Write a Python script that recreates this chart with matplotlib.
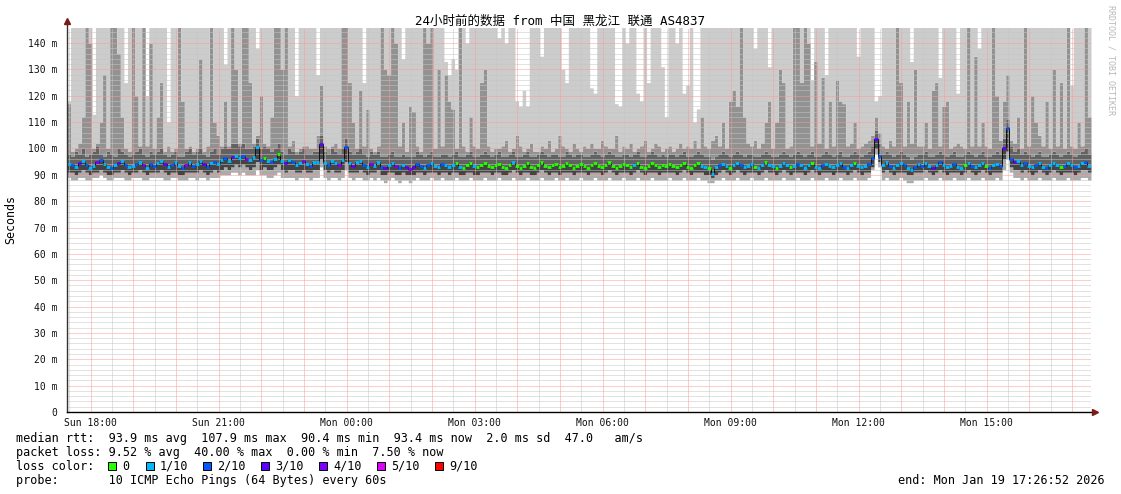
import numpy as np
import matplotlib
matplotlib.use('Agg')
from matplotlib import pyplot as plt
from matplotlib.patches import Rectangle

plt.rcParams['font.family'] = ['DejaVu Sans Mono', 'Noto Sans CJK SC']

# 5 minute steps, Sun 17:26:52 -> Mon 17:26:52 (288 steps), values in ms
median_ms = [
    94.1, 93.6, 92.8, 94.5, 95.2, 93.9, 92.6, 93.4, 94.8, 95.6, 94.0, 93.1, 92.4, 93.8, 94.6, 95.1, 93.7, 92.9, 93.5, 94.2, 95.0, 93.6, 92.7, 94.0,
    93.3, 94.4, 95.2, 94.1, 92.9, 93.6, 94.8, 93.2, 92.5, 93.9, 94.7, 93.4, 94.0, 95.3, 94.2, 93.1, 94.5, 95.0, 94.1, 95.6, 96.2, 95.4, 96.8, 97.1,
    96.4, 97.2, 96.0, 95.5, 96.7, 100.6, 95.8, 96.3, 95.2, 94.8, 95.9, 97.9, 95.1, 94.3, 95.6, 94.9, 93.8, 94.6, 95.3, 94.2, 93.5, 94.7, 95.0, 101.8,
    94.6, 93.9, 95.2, 94.4, 93.7, 95.5, 100.6, 94.3, 93.5, 94.8, 95.1, 93.6, 92.9, 94.2, 93.4, 94.9, 93.1, 92.6, 93.8, 94.5, 93.2, 92.4, 93.6, 92.8,
    92.3, 93.0, 94.2, 93.5, 92.7, 93.9, 94.6, 93.3, 92.8, 94.1, 93.6, 92.9, 93.8, 94.4, 93.1, 92.6, 93.7, 94.3, 93.2, 92.8, 93.9, 94.5, 93.4, 92.9,
    93.6, 94.2, 93.1, 92.7, 93.8, 94.9, 93.3, 92.6, 93.5, 94.4, 93.0, 92.5, 93.9, 94.7, 93.4, 92.8, 93.6, 94.1, 92.9, 93.3, 94.6, 93.8, 92.7, 93.5,
    94.0, 93.2, 92.6, 93.7, 94.5, 93.4, 92.9, 93.8, 94.8, 93.5, 92.7, 93.3, 94.2, 93.6, 92.8, 93.9, 94.6, 93.1, 92.5, 93.4, 94.3, 93.7, 92.9, 93.6,
    93.2, 94.1, 93.5, 92.8, 93.9, 94.4, 93.0, 92.7, 93.6, 94.3, 93.4, 92.9, 92.4, 90.4, 92.8, 93.7, 94.2, 93.5, 92.6, 93.9, 94.5, 93.8, 92.9, 93.4,
    94.0, 93.1, 92.6, 93.8, 94.7, 93.9, 93.2, 92.5, 93.5, 94.4, 93.7, 92.8, 93.3, 94.2, 93.6, 92.7, 93.9, 94.5, 93.0, 92.6, 93.7, 94.1, 93.4, 92.9,
    93.6, 94.3, 93.0, 92.7, 93.8, 94.6, 93.4, 92.8, 93.5, 94.2, 96.5, 103.5, 97.2, 93.9, 94.8, 93.3, 92.6, 93.7, 94.5, 93.9, 92.4, 91.8, 93.1, 94.0,
    93.5, 94.4, 93.2, 92.7, 93.6, 94.9, 93.8, 92.9, 93.4, 94.2, 93.0, 92.6, 93.7, 94.3, 93.5, 92.8, 93.9, 94.6, 93.2, 92.5, 93.6, 94.0, 93.3, 100.2,
    107.9, 96.1, 94.8, 95.2, 93.9, 94.6, 93.5, 92.8, 93.7, 94.4, 93.1, 92.6, 93.8, 94.5, 93.6, 92.9, 93.4, 94.3, 93.7, 92.8, 93.5, 94.6, 94.9, 93.4,
]

# lost pings out of 10
loss = [
    1, 2, 1, 3, 1, 2, 1, 1, 4, 2, 1, 1, 2, 1, 3, 1, 2, 1, 1, 2, 1, 4, 1, 2,
    2, 1, 1, 3, 1, 2, 1, 1, 2, 4, 1, 2, 1, 1, 3, 2, 1, 2, 1, 1, 2, 1, 3, 1,
    1, 2, 4, 1, 1, 1, 2, 0, 1, 2, 1, 0, 1, 3, 1, 2, 1, 1, 4, 1, 2, 1, 1, 3,
    1, 2, 1, 1, 4, 1, 2, 1, 3, 1, 1, 2, 1, 4, 1, 1, 2, 3, 1, 1, 4, 2, 1, 3,
    4, 3, 2, 2, 1, 2, 1, 1, 1, 2, 1, 1, 1, 0, 1, 0, 0, 0, 1, 0, 0, 0, 0, 0,
    0, 0, 0, 0, 0, 1, 0, 0, 0, 0, 0, 0, 0, 0, 0, 0, 0, 0, 0, 0, 0, 0, 0, 0,
    0, 0, 0, 0, 0, 0, 0, 0, 0, 0, 0, 0, 0, 0, 0, 1, 0, 0, 0, 0, 0, 0, 0, 0,
    0, 0, 0, 0, 0, 0, 0, 0, 0, 0, 1, 1, 0, 1, 1, 2, 1, 1, 0, 1, 1, 2, 1, 1,
    1, 0, 1, 1, 0, 1, 1, 0, 1, 1, 1, 0, 1, 2, 1, 1, 1, 0, 1, 1, 2, 1, 1, 1,
    1, 1, 2, 1, 1, 0, 1, 1, 1, 2, 2, 3, 2, 1, 1, 2, 1, 1, 1, 2, 1, 1, 2, 1,
    2, 1, 1, 3, 1, 2, 1, 1, 1, 2, 1, 1, 0, 1, 2, 1, 1, 1, 0, 2, 1, 1, 2, 3,
    2, 2, 3, 1, 1, 2, 1, 1, 2, 1, 1, 2, 1, 1, 1, 0, 2, 1, 1, 2, 1, 1, 2, 1,
]

# smoke: fastest ping
ping_min = [
    89, 88, 88, 89, 89, 88, 88, 89, 89, 90, 89, 88, 88, 89, 89, 89, 88, 88, 89, 89, 89, 88, 88, 89,
    89, 89, 89, 88, 88, 89, 89, 88, 88, 88, 89, 89, 88, 89, 89, 88, 89, 89, 89, 90, 90, 90, 91, 91,
    90, 91, 90, 90, 90, 92, 90, 90, 89, 89, 90, 91, 89, 89, 89, 89, 88, 89, 89, 89, 88, 89, 89, 93,
    89, 88, 89, 89, 88, 89, 92, 89, 88, 89, 89, 88, 88, 89, 88, 89, 88, 87, 88, 89, 88, 87, 88, 88,
    87, 88, 89, 88, 88, 88, 89, 88, 88, 89, 88, 88, 88, 89, 88, 88, 88, 89, 88, 88, 88, 89, 88, 88,
    88, 89, 88, 88, 88, 89, 88, 88, 88, 89, 88, 88, 88, 89, 88, 88, 88, 89, 88, 88, 89, 88, 88, 88,
    89, 88, 88, 88, 89, 88, 88, 88, 89, 88, 88, 88, 89, 88, 88, 88, 89, 88, 88, 88, 89, 88, 88, 88,
    88, 89, 88, 88, 88, 89, 88, 88, 88, 89, 88, 88, 87, 87, 88, 88, 89, 88, 88, 88, 89, 88, 88, 88,
    89, 88, 88, 88, 89, 88, 88, 88, 88, 89, 88, 88, 88, 89, 88, 88, 88, 89, 88, 88, 88, 89, 88, 88,
    88, 89, 88, 88, 88, 89, 88, 88, 88, 89, 92, 98, 93, 88, 89, 88, 88, 88, 89, 88, 87, 87, 88, 88,
    88, 89, 88, 88, 88, 89, 88, 88, 88, 89, 88, 88, 88, 89, 88, 88, 88, 89, 88, 88, 88, 89, 88, 92,
    96, 91, 89, 89, 88, 89, 88, 88, 88, 89, 88, 88, 88, 89, 88, 88, 88, 89, 88, 88, 88, 89, 89, 88,
]

# smoke: 2nd/3rd fastest pings
ping_lo = [
    91, 91, 90, 91, 92, 91, 90, 91, 91, 92, 91, 90, 90, 91, 91, 92, 91, 90, 91, 91, 92, 91, 90, 91,
    91, 91, 92, 91, 90, 91, 91, 90, 90, 91, 91, 91, 91, 92, 91, 90, 91, 92, 91, 92, 93, 92, 93, 94,
    93, 94, 93, 92, 93, 95, 92, 93, 92, 92, 93, 94, 92, 91, 92, 92, 91, 91, 92, 91, 91, 92, 92, 96,
    92, 91, 92, 91, 91, 92, 95, 91, 91, 91, 92, 91, 90, 91, 91, 92, 90, 90, 91, 91, 90, 90, 91, 90,
    90, 90, 91, 91, 90, 91, 91, 91, 90, 91, 91, 90, 91, 91, 90, 90, 91, 91, 90, 90, 91, 91, 91, 90,
    91, 91, 90, 90, 91, 92, 91, 90, 91, 91, 90, 90, 91, 92, 91, 90, 91, 91, 90, 91, 91, 91, 90, 91,
    91, 91, 90, 91, 91, 91, 90, 91, 92, 91, 90, 91, 91, 91, 90, 91, 92, 91, 90, 91, 91, 91, 90, 91,
    91, 91, 91, 90, 91, 92, 91, 90, 91, 91, 91, 90, 90, 89, 90, 91, 92, 91, 90, 91, 92, 91, 90, 91,
    91, 91, 90, 91, 92, 91, 91, 90, 91, 92, 91, 90, 91, 91, 91, 90, 91, 92, 91, 90, 91, 91, 91, 90,
    91, 91, 91, 90, 91, 92, 91, 90, 91, 91, 93, 100, 95, 91, 92, 91, 90, 91, 91, 91, 90, 90, 91, 91,
    91, 92, 91, 90, 91, 92, 91, 90, 91, 91, 91, 90, 91, 92, 91, 90, 91, 92, 91, 90, 91, 91, 91, 96,
    99, 93, 92, 92, 91, 92, 91, 90, 91, 92, 91, 90, 91, 92, 91, 90, 91, 91, 91, 90, 91, 92, 92, 91,
]

# smoke: 7th/8th pings
ping_hi = [
    98, 97, 99, 98, 100, 97, 98, 99, 101, 98, 97, 99, 98, 97, 100, 99, 98, 97, 98, 99, 100, 98, 97, 99,
    98, 99, 100, 98, 97, 98, 99, 97, 97, 99, 100, 98, 99, 100, 98, 97, 99, 100, 98, 100, 101, 100, 102, 102,
    101, 102, 100, 100, 101, 104, 100, 101, 100, 99, 100, 102, 99, 98, 100, 99, 98, 99, 100, 98, 98, 99, 99, 105,
    99, 98, 100, 99, 98, 100, 104, 99, 98, 99, 100, 98, 97, 99, 98, 99, 97, 97, 98, 99, 97, 97, 98, 97,
    97, 97, 99, 98, 97, 98, 99, 97, 97, 98, 98, 97, 98, 99, 97, 97, 98, 99, 97, 97, 98, 99, 98, 97,
    98, 99, 97, 97, 98, 99, 97, 97, 98, 99, 97, 97, 98, 99, 98, 97, 98, 98, 97, 97, 99, 98, 97, 98,
    98, 97, 97, 98, 99, 98, 97, 98, 99, 98, 97, 97, 98, 98, 97, 98, 99, 97, 97, 98, 99, 98, 97, 98,
    97, 98, 98, 97, 98, 99, 97, 97, 98, 99, 98, 97, 97, 96, 97, 98, 99, 98, 97, 98, 99, 98, 97, 98,
    98, 97, 97, 98, 99, 98, 97, 97, 98, 99, 98, 97, 98, 99, 98, 97, 98, 99, 97, 97, 98, 99, 98, 97,
    98, 99, 97, 97, 98, 99, 98, 97, 98, 99, 101, 107, 102, 98, 99, 98, 97, 98, 99, 98, 97, 96, 97, 98,
    98, 99, 97, 97, 98, 99, 98, 97, 98, 99, 97, 97, 98, 99, 98, 97, 98, 99, 97, 97, 98, 99, 98, 104,
    111, 101, 99, 100, 98, 99, 98, 97, 98, 99, 97, 97, 98, 99, 98, 97, 98, 99, 98, 97, 98, 99, 100, 98,
]

# smoke: 9th ping
ping_hi2 = [
    117, 99, 100, 102, 112, 146, 140, 100, 102, 110, 128, 100, 146, 146, 136, 112, 100, 99, 146, 120, 101, 146, 101, 140,
    100, 112, 125, 99, 101, 99, 100, 146, 118, 100, 101, 99, 100, 134, 99, 101, 146, 110, 105, 101, 118, 101, 146, 130,
    102, 146, 146, 125, 102, 105, 120, 102, 101, 112, 146, 146, 130, 146, 101, 103, 99, 100, 101, 101, 100, 100, 105, 124,
    101, 100, 101, 102, 100, 146, 146, 125, 110, 100, 122, 101, 115, 100, 99, 101, 146, 130, 128, 146, 140, 101, 110, 99,
    116, 114, 101, 99, 146, 140, 146, 100, 130, 101, 128, 118, 115, 100, 146, 101, 99, 112, 101, 100, 125, 130, 101, 99,
    100, 100, 101, 103, 99, 100, 105, 101, 99, 100, 102, 99, 99, 101, 100, 103, 99, 100, 105, 101, 100, 99, 102, 100,
    99, 101, 100, 102, 100, 100, 103, 101, 100, 100, 105, 99, 101, 100, 102, 99, 100, 101, 103, 99, 100, 102, 101, 99,
    100, 101, 99, 100, 102, 100, 101, 100, 103, 100, 112, 101, 100, 103, 105, 101, 110, 100, 118, 122, 116, 146, 112, 102,
    101, 103, 100, 102, 110, 118, 100, 110, 130, 125, 100, 101, 146, 146, 125, 146, 140, 101, 133, 102, 127, 100, 118, 101,
    126, 118, 117, 101, 102, 110, 100, 101, 102, 103, 105, 112, 106, 101, 100, 103, 101, 146, 125, 101, 118, 102, 130, 101,
    101, 110, 100, 122, 125, 101, 116, 118, 100, 101, 102, 101, 100, 146, 101, 135, 101, 110, 101, 100, 146, 120, 103, 118,
    128, 103, 102, 112, 100, 146, 101, 120, 110, 105, 101, 118, 100, 130, 101, 125, 100, 146, 101, 100, 110, 101, 146, 112,
]

# smoke: slowest ping (graph is cut at ~145.7 ms)
ping_max = [
    118, 146, 146, 146, 146, 146, 146, 113, 146, 146, 146, 146, 146, 146, 146, 146, 125, 146, 146, 146, 146, 146, 120, 146,
    146, 146, 146, 146, 110, 146, 146, 146, 146, 146, 146, 146, 146, 146, 146, 146, 146, 146, 146, 146, 132, 146, 146, 146,
    146, 146, 146, 146, 146, 138, 146, 146, 146, 146, 146, 146, 146, 146, 146, 146, 120, 146, 146, 146, 146, 146, 128, 146,
    146, 146, 146, 146, 146, 146, 146, 146, 146, 146, 146, 125, 146, 146, 146, 146, 146, 146, 146, 146, 146, 146, 134, 146,
    146, 146, 146, 146, 146, 146, 146, 146, 146, 146, 133, 128, 134, 130, 146, 146, 140, 146, 146, 146, 146, 146, 146, 146,
    146, 142, 146, 140, 146, 146, 118, 116, 122, 116, 146, 146, 146, 135, 146, 146, 146, 146, 146, 130, 125, 146, 146, 146,
    146, 146, 146, 123, 121, 146, 146, 146, 146, 146, 117, 116, 146, 140, 146, 146, 121, 118, 146, 125, 146, 146, 146, 131,
    112, 146, 146, 140, 146, 121, 124, 146, 110, 115, 146, 146, 146, 146, 146, 146, 146, 146, 146, 146, 146, 146, 146, 146,
    146, 138, 146, 146, 146, 131, 146, 146, 146, 146, 146, 146, 146, 146, 146, 146, 146, 126, 146, 146, 146, 128, 146, 146,
    146, 146, 146, 146, 146, 146, 135, 146, 146, 146, 146, 118, 120, 146, 146, 146, 146, 146, 146, 146, 146, 133, 146, 146,
    146, 146, 146, 146, 146, 127, 146, 146, 146, 146, 121, 146, 146, 146, 146, 146, 138, 146, 146, 146, 146, 146, 146, 146,
    146, 146, 146, 146, 146, 146, 146, 146, 146, 146, 146, 146, 146, 146, 146, 146, 146, 146, 124, 146, 146, 146, 146, 146,
]

loss_colors = ['#26ff00', '#00b8ff', '#0059ff', '#5e00ff', '#7e00ff', '#dd00ff', '#ff0000']
loss_labels = ['0', '1/10', '2/10', '3/10', '4/10', '5/10', '9/10']

tick_hours = [18, 21, 24, 27, 30, 33, 36, 39]
tick_labels = ['Sun 18:00', 'Sun 21:00', 'Mon 00:00', 'Mon 03:00',
               'Mon 06:00', 'Mon 09:00', 'Mon 12:00', 'Mon 15:00']

title = '24小时前的数据 from 中国 黑龙江 联通 AS4837'
line_rtt = 'median rtt:  93.9 ms avg  107.9 ms max  90.4 ms min  93.4 ms now  2.0 ms sd  47.0   am/s'
line_loss = 'packet loss: 9.52 % avg  40.00 % max  0.00 % min  7.50 % now'
line_probe = 'probe:       10 ICMP Echo Pings (64 Bytes) every 60s'
line_end = 'end: Mon Jan 19 17:26:52 2026'

W, H = 1121, 494
start_h = 17 + 26/60 + 52/3600
YMAX = 145.7

def fx(x):
	return x / W

def fy(y):
	return 1 - y / H

fig = plt.figure(figsize=(W/100, H/100), dpi=100)
ax = fig.add_axes([fx(67), fy(412), (1091-67)/W, (412-28)/H])
ax.set_xlim(0, 24)
ax.set_ylim(0, YMAX)

n = len(median_ms)
step = 24 / n
x = np.arange(n + 1) * step

def ext(a):
	a = np.asarray(a, dtype=float)
	return np.append(a, a[-1])

# smoke bands, light outside, dark near the median
bands = [
	(ping_min, ping_lo, '#ababab'),
	(ping_lo, median_ms, '#444444'),
	(median_ms, ping_hi, '#626262'),
	(ping_hi, ping_hi2, '#929292'),
	(ping_hi2, ping_max, '#cccccc'),
]
for lo, hi, c in bands:
	ax.fill_between(x, ext(lo), ext(hi), step='post', color=c, lw=0, zorder=1)

# grid (drawn over the smoke like rrdtool), dotted
dot = (0, (1, 1))
gkw = dict(lw=0.72, linestyles=[dot], zorder=2)
halves = np.arange(17.5, 42, 1) - start_h
halves = halves[(halves > 0) & (halves < 24)]
hours = np.arange(18, 42) - start_h
ax.vlines(halves, 0, YMAX, colors='#c6c6c6', **gkw)
minor_y = [v for v in range(2, 146, 2) if v % 10]
ax.hlines(minor_y, 0, 24, colors='#c6c6c6', **gkw)
ax.vlines(hours, 0, YMAX, colors='#ff9999', **gkw)
ax.hlines(range(10, 141, 10), 0, 24, colors='#ff9999', **gkw)

# median line coloured by loss
med = np.asarray(median_ms)
ax.step(x, ext(med), where='post', color='#111111', lw=0.7, zorder=3)
ax.hlines(med, x[:-1], x[1:], colors=[loss_colors[l] for l in loss], lw=2.0, zorder=4)

# axes
for s in ax.spines.values():
	s.set_visible(False)
ax.set_xticks([h - start_h for h in tick_hours], tick_labels)
ax.set_yticks(range(0, 141, 10), ['0'] + ['%d m' % v for v in range(10, 141, 10)])
ax.tick_params(axis='both', labelsize=7, length=0, colors='#111111')
ax.tick_params(axis='x', pad=4)
ax.tick_params(axis='y', pad=7)
ax.plot([0, 0], [0, 1.015], transform=ax.transAxes, color='#333333', lw=1, clip_on=False, zorder=5)
ax.plot([0, 1.004], [0, 0], transform=ax.transAxes, color='black', lw=1, clip_on=False, zorder=5)
ax.plot([0], [1.017], marker='^', ms=4, color='#7a1a1a', transform=ax.transAxes, clip_on=False, zorder=6)
ax.plot([1.004], [0], marker='>', ms=4, color='#7a1a1a', transform=ax.transAxes, clip_on=False, zorder=6)

# texts
fig.text(fx(560), fy(21), title, ha='center', va='center', fontsize=9)
fig.text(fx(11), fy(219), 'Seconds', rotation=90, ha='center', va='center', fontsize=8.4)
fig.text(fx(1111), fy(60), 'RRDTOOL / TOBI OETIKER', rotation=270, ha='center', va='center',
	fontsize=6, color='#b8b8b8')

fs = 8.5
fig.text(fx(16), fy(438), line_rtt, va='center', fontsize=fs)
fig.text(fx(16), fy(452), line_loss, va='center', fontsize=fs)
fig.text(fx(16), fy(466), 'loss color:', va='center', fontsize=fs)
box_x = [108, 146, 203, 261, 319, 377, 435]
for bx, c, lab in zip(box_x, loss_colors, loss_labels):
	fig.patches.append(Rectangle((fx(bx), fy(470)), 8/W, 8/H, transform=fig.transFigure,
		facecolor=c, edgecolor='black', lw=0.7))
	fig.text(fx(bx + 14), fy(466), lab, va='center', fontsize=fs)
fig.text(fx(16), fy(480), line_probe, va='center', fontsize=fs)
fig.text(fx(1105), fy(480), line_end, ha='right', va='center', fontsize=fs)

plt.savefig('out.png', dpi=100)
